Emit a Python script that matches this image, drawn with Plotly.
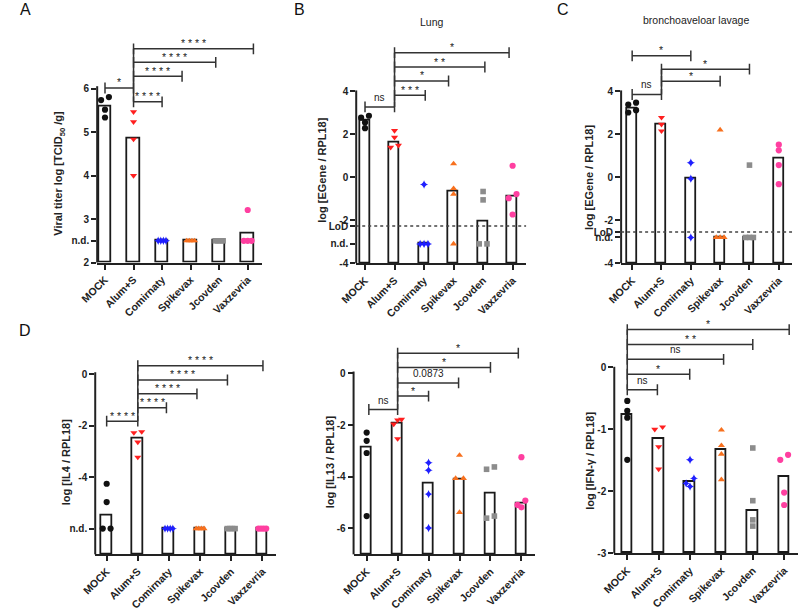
import plotly.graph_objects as go

W, H = 800, 611
FONT = "Liberation Sans, Arial, sans-serif"
INK = "#222222"

categories = ["MOCK", "Alum+S", "Comirnaty", "Spikevax", "Jcovden", "Vaxzevria"]
group_colors = ["#111111", "#ff1f1f", "#1f1fff", "#f7701e", "#8c8c8c", "#ff3fa0"]
group_symbols = ["circle", "triangle-down", "star-diamond", "triangle-up", "square", "circle"]
group_sizes = [6.2, 6.2, 6, 6.2, 5.6, 6.2]

# ---------------- Panel A : viral titer ----------------
a_bars = [5.60, 4.86, 2.50, 2.50, 2.50, 2.66]
a_points = [[5.81, 5.74, 5.52, 5.34], [5.47, 5.24, 4.84, 4.00], [2.5, 2.5, 2.5, 2.5],
            [2.5, 2.5, 2.5, 2.5], [2.5, 2.5, 2.5, 2.5], [3.21, 2.5, 2.5, 2.5]]
a_ticks = [2, 2.5, 3, 4, 5, 6]
a_ticktext = ["2", "n.d.", "3", "4", "5", "6"]
a_brk_from = [0, 1, 1, 1, 1]
a_brk_to = [1, 2, 2.70, 3.88, 5.20]
a_brk_y = [6.02, 5.70, 6.29, 6.61, 6.92]
a_brk_text = ["*", "****", "****", "****", "****"]

# ---------------- Panel B : Lung EGene ----------------
b_bars = [2.65, 1.63, -3.10, -0.66, -2.08, -0.90]
b_points = [[2.87, 2.78, 2.56, 2.29], [2.18, 1.86, 1.49, 1.40], [-0.33, -3.10, -3.10, -3.10],
            [0.63, -0.52, -0.78, -3.10], [-0.66, -1.05, -3.10, -3.10], [0.54, -0.78, -0.97, -1.73]]
b_ticks = [-4, -3.1, -2.27, -2, 0, 2, 4]
b_ticktext = ["-4", "n.d.", "LoD", "-2", "0", "2", "4"]
b_lod = -2.27
b_brk_from = [0, 1, 1, 1, 1]
b_brk_to = [1, 2.04, 2.83, 4.06, 4.88]
b_brk_y = [3.28, 3.82, 4.49, 5.14, 5.81]
b_brk_text = ["ns", "***", "*", "**", "*"]

# ---------------- Panel C : BAL EGene ----------------
c_bars = [3.22, 2.44, -0.06, -2.80, -2.80, 0.87]
c_points = [[3.48, 3.39, 3.13, 3.02], [2.79, 2.47, 2.16], [0.68, -0.06, -2.80],
            [2.21, -2.80, -2.80, -2.80], [0.57, -2.80, -2.80, -2.80], [1.52, 1.26, 0.57, -0.32]]
c_ticks = [-4, -2.8, -2.55, -2, 0, 2, 4]
c_ticktext = ["-4", "n.d.", "LoD", "-2", "0", "2", "4"]
c_lod = -2.55
c_brk_from = [0, 1, 1, 0]
c_brk_to = [2, 4, 3, 1]
c_brk_y = [5.66, 5.04, 4.48, 3.86]
c_brk_text = ["*", "*", "*", "ns"]

# ---------------- Panel D : IL4 ----------------
d_bars = [-5.49, -2.51, -6.0, -6.0, -6.0, -6.0]
d_points = [[-4.26, -4.97, -6.0, -6.0], [-2.24, -2.28, -2.64, -3.23], [-6.0, -6.0, -6.0, -6.0],
            [-6.0, -6.0, -6.0, -6.0], [-6.0, -6.0, -6.0, -6.0], [-6.0, -6.0, -6.0, -6.0]]
d_ticks = [-6, -4, -2, 0]
d_ticktext = ["n.d.", "-4", "-2", "0"]
d_brk_from = [0, 1, 1, 1, 1]
d_brk_to = [1, 1.92, 2.90, 3.88, 5.02]
d_brk_y = [-1.83, -1.31, -0.77, -0.23, 0.32]
d_brk_text = ["****", "****", "****", "****", "****"]

# ---------------- Panel E : IL13 ----------------
e_bars = [-2.86, -1.93, -4.25, -4.11, -4.64, -5.02]
e_points = [[-2.29, -2.61, -3.08, -5.52], [-1.78, -1.81, -1.96, -2.53], [-3.46, -3.75, -4.67, -5.98],
            [-3.17, -4.06, -4.06, -5.38], [-3.62, -3.71, -5.52, -5.60], [-3.24, -4.92, -5.09, -5.18]]
e_ticks = [-6, -4, -2, 0]
e_ticktext = ["-6", "-4", "-2", "0"]
e_brk_from = [0.07, 1, 1, 1, 1]
e_brk_to = [1, 2, 2.97, 4, 4.90]
e_brk_y = [-1.40, -0.88, -0.37, 0.23, 0.78]
e_brk_text = ["ns", "*", "0.0873", "*", "*"]

# ---------------- Panel F : IFN-gamma ----------------
f_bars = [-0.76, -1.16, -1.84, -1.33, -2.31, -1.76]
f_points = [[-0.54, -0.70, -0.81, -1.49], [-0.96, -1.00, -1.28, -1.64], [-1.49, -1.79, -1.87, -1.92],
            [-1.01, -1.26, -1.40, -1.81], [-1.30, -2.15, -2.46, -2.56], [-1.41, -1.49, -2.02, -2.22]]
f_ticks = [-3, -2, -1, 0]
f_ticktext = ["-3", "-2", "-1", "0"]
f_brk_from = [0, 0, 0, 0, 0]
f_brk_to = [0.96, 1.99, 3.07, 4.0, 5.16]
f_brk_y = [-0.36, -0.11, 0.13, 0.37, 0.61]
f_brk_text = ["ns", "*", "ns", "**", "*"]

# ---------------- layout geometry (pixels) ----------------
panels = [
    dict(bars=a_bars, pts=a_points, ticks=a_ticks, tt=a_ticktext, bf=a_brk_from, bt=a_brk_to, by=a_brk_y, bl=a_brk_text,
         lod=None, hub=1, left=81, right=250, bottom=266, top=30, cat0=89, dx=29.2, ybot=2, scale=44, axtop=6.06, barw=0.44),
    dict(bars=b_bars, pts=b_points, ticks=b_ticks, tt=b_ticktext, bf=b_brk_from, bt=b_brk_to, by=b_brk_y, bl=b_brk_text,
         lod=b_lod, hub=1, left=346, right=520, bottom=266.7, top=35, cat0=355, dx=30.2, ybot=-4, scale=21.75, axtop=4.05, barw=0.34),
    dict(bars=c_bars, pts=c_points, ticks=c_ticks, tt=c_ticktext, bf=c_brk_from, bt=c_brk_to, by=c_brk_y, bl=c_brk_text,
         lod=c_lod, hub=1, left=617, right=792, bottom=266.7, top=35, cat0=628.3, dx=30.0, ybot=-4, scale=21.75, axtop=4.05, barw=0.34),
    dict(bars=d_bars, pts=d_points, ticks=d_ticks, tt=d_ticktext, bf=d_brk_from, bt=d_brk_to, by=d_brk_y, bl=d_brk_text,
         lod=None, hub=1, left=79, right=264, bottom=561.7, top=340, cat0=90.7, dx=31.85, ybot=-7, scale=26.1, axtop=0.07, barw=0.34),
    dict(bars=e_bars, pts=e_points, ticks=e_ticks, tt=e_ticktext, bf=e_brk_from, bt=e_brk_to, by=e_brk_y, bl=e_brk_text,
         lod=None, hub=1, left=343.3, right=529, bottom=561.7, top=340, cat0=356.7, dx=31.66, ybot=-7, scale=26.2, axtop=0.07, barw=0.34),
    dict(bars=f_bars, pts=f_points, ticks=f_ticks, tt=f_ticktext, bf=f_brk_from, bt=f_brk_to, by=f_brk_y, bl=f_brk_text,
         lod=None, hub=0, left=610, right=798, bottom=560.7, top=315, cat0=623.3, dx=32.1, ybot=-3, scale=62.8, axtop=0.01, barw=0.34),
]

y_titles = [
    ("Viral titer log [TCID<sub>50</sub> /g]", 42, 176),
    ("log [EGene / RPL18]", 311, 173),
    ("log [EGene / RPL18]", 583.5, 180),
    ("log [IL4 / RPL18]", 48.5, 468),
    ("log [IL13 / RPL18]", 319.5, 468),
    ("log [IFN-γ / RPL18]", 585, 467),
]
panel_letters = [("A", 8, 10), ("B", 288, 10), ("C", 557.5, 10), ("D", 7, 335)]
panel_titles = [("Lung", 423.5, 22), ("bronchoaveloar lavage", 693.5, 20)]


def spread(vals, scale, dx):
    order = sorted(range(len(vals)), key=lambda i: -vals[i])
    rows = []
    for i in order:
        if rows and (vals[rows[-1][0]] - vals[i]) * scale < 5.2:
            rows[-1].append(i)
        else:
            rows.append([i])
    offs = [0.0] * len(vals)
    for row in rows:
        n = len(row)
        if n == 1:
            continue
        s = min(8.0, 8.0 / (n - 1))
        for k, i in enumerate(row):
            offs[i] = ((n - 1) / 2 - k) * s / dx
    return offs


fig = go.Figure()
shapes = []
annotations = []
layout_axes = {}

for p_i, p in enumerate(panels):
    n = p_i + 1
    xa = "x" if n == 1 else f"x{n}"
    ya = "y" if n == 1 else f"y{n}"
    xr = [(p["left"] - p["cat0"]) / p["dx"], (p["right"] - p["cat0"]) / p["dx"]]
    yr = [p["ybot"], p["ybot"] + (p["bottom"] - p["top"]) / p["scale"]]
    xdom = [p["left"] / W, p["right"] / W]
    ydom = [1 - p["bottom"] / H, 1 - p["top"] / H]

    fig.add_trace(go.Bar(
        x=list(range(len(categories))), y=[v - p["ybot"] for v in p["bars"]], base=p["ybot"],
        width=p["barw"], marker=dict(color="white", line=dict(color="#1a1a1a", width=1.8)),
        xaxis=xa, yaxis=ya, showlegend=False, hoverinfo="skip"))

    for g, vals in enumerate(p["pts"]):
        offs = spread(vals, p["scale"], p["dx"])
        fig.add_trace(go.Scatter(
            x=[g + o for o in offs], y=vals, mode="markers",
            marker=dict(symbol=group_symbols[g], color=group_colors[g], size=group_sizes[g], line=dict(width=0)),
            xaxis=xa, yaxis=ya, showlegend=False, hoverinfo="skip", cliponaxis=False))

    xkey = "xaxis" if n == 1 else f"xaxis{n}"
    ykey = "yaxis" if n == 1 else f"yaxis{n}"
    layout_axes[xkey] = dict(
        domain=xdom, range=xr, anchor=ya, tickmode="array", tickvals=list(range(len(categories))),
        ticktext=categories, tickangle=-45, ticks="outside", ticklen=5, tickwidth=1.5, tickcolor=INK,
        showline=True, linewidth=2, linecolor=INK, showgrid=False, zeroline=False, fixedrange=True,
        tickfont=dict(family=FONT, size=10.5, color=INK, weight="bold"))
    layout_axes[ykey] = dict(
        domain=ydom, range=yr, anchor=xa, tickmode="array", tickvals=p["ticks"], ticktext=p["tt"],
        ticks="outside", ticklen=5, tickwidth=1.5, tickcolor=INK, showline=False, showgrid=False,
        zeroline=False, fixedrange=True, tickfont=dict(family=FONT, size=10, color=INK, weight="bold"))

    y_top_paper = ydom[0] + (p["axtop"] - yr[0]) / (yr[1] - yr[0]) * (ydom[1] - ydom[0])
    shapes.append(dict(type="line", xref="paper", yref="paper", x0=xdom[0], x1=xdom[0],
                       y0=ydom[0], y1=y_top_paper, line=dict(color=INK, width=2)))

    if p["lod"] is not None:
        shapes.append(dict(type="line", xref=xa, yref=ya, x0=xr[0], x1=xr[1], y0=p["lod"], y1=p["lod"],
                           line=dict(color="#444444", width=1.5, dash="dot")))

    h = 5.5 / p["scale"]
    lc = dict(color="#333333", width=1.5)
    hub_ys = []
    for x0, x1, yb, lab in zip(p["bf"], p["bt"], p["by"], p["bl"]):
        shapes.append(dict(type="line", xref=xa, yref=ya, x0=x0, x1=x1, y0=yb, y1=yb, line=lc))
        for xe in (x0, x1):
            shapes.append(dict(type="line", xref=xa, yref=ya, x0=xe, x1=xe, y0=yb - h, y1=yb + h, line=lc))
        if abs(x0 - p["hub"]) < 0.05 or abs(x1 - p["hub"]) < 0.05:
            hub_ys.append(yb)
        if "*" in lab:
            txt, ysh, fs = " ".join(lab), -2.5, 10.5
        elif lab == "ns":
            txt, ysh, fs = lab, 2, 10
        else:
            txt, ysh, fs = lab, 1.5, 10
        annotations.append(dict(x=(x0 + x1) / 2, y=yb, xref=xa, yref=ya, text=txt, showarrow=False,
                                xanchor="center", yanchor="bottom", yshift=ysh,
                                font=dict(family=FONT, size=fs, color=INK)))
    if len(hub_ys) > 1:
        shapes.append(dict(type="line", xref=xa, yref=ya, x0=p["hub"], x1=p["hub"],
                           y0=min(hub_ys), y1=max(hub_ys), line=lc))

for txt, px, py in y_titles:
    annotations.append(dict(x=px / W, y=1 - py / H, xref="paper", yref="paper", text=txt, showarrow=False,
                            textangle=-90, xanchor="center", yanchor="middle",
                            font=dict(family=FONT, size=11, color=INK, weight="bold")))
for txt, px, py in panel_letters:
    annotations.append(dict(x=px / W, y=1 - py / H, xref="paper", yref="paper", text=txt, showarrow=False,
                            xanchor="center", yanchor="middle", font=dict(family=FONT, size=16, color="#111111")))
for txt, px, py in panel_titles:
    annotations.append(dict(x=px / W, y=1 - py / H, xref="paper", yref="paper", text=txt, showarrow=False,
                            xanchor="center", yanchor="middle", font=dict(family=FONT, size=10.5, color=INK)))

fig.update_layout(
    width=W, height=H, margin=dict(l=0, r=0, t=0, b=0), autosize=False,
    paper_bgcolor="white", plot_bgcolor="white", showlegend=False, bargap=0,
    shapes=shapes, annotations=annotations, font=dict(family=FONT, color=INK),
    **layout_axes)

fig.write_html("out.html",
               post_script="document.body.style.margin='0';document.body.style.padding='0';")
